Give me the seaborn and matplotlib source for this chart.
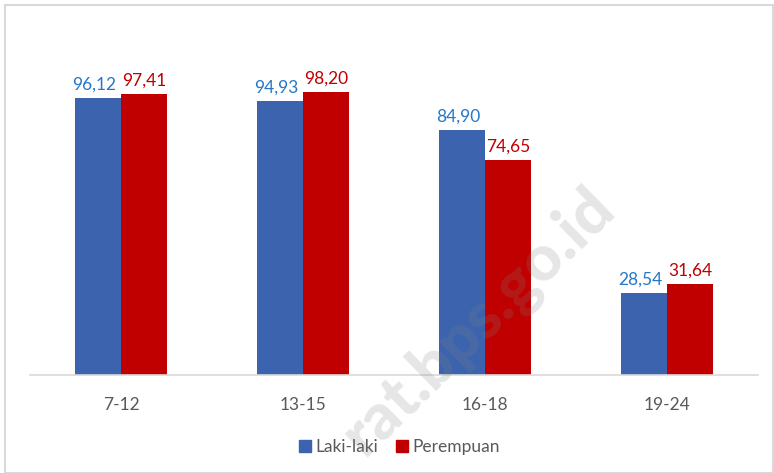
import matplotlib
matplotlib.use("Agg")
import matplotlib.pyplot as plt
import seaborn as sns
import pandas as pd
import numpy as np
from matplotlib.patches import Rectangle
from matplotlib.lines import Line2D

categories = ["7-12", "13-15", "16-18", "19-24"]
laki = [96.12, 94.93, 84.90, 28.54]
perempuan = [97.41, 98.20, 74.65, 31.64]
series = ["Laki-laki", "Perempuan"]

BLUE = "#3c64ae"
RED = "#c00000"
LBL_BLUE = "#2478c8"
LBL_RED = "#c00000"
GRAY = "#595959"

df = pd.DataFrame({
    "Umur": categories * 2,
    "Nilai": laki + perempuan,
    "Jenis": [series[0]] * 4 + [series[1]] * 4,
})

sns.set_theme(style="white")
plt.rcParams["font.family"] = ["Lato", "DejaVu Sans"]

W, H = 774, 473
fig = plt.figure(figsize=(W / 100, H / 100), dpi=100)
ax = fig.add_axes([30 / W, 1 - 375 / H, 728 / W, 346 / H])

sns.barplot(data=df, x="Umur", y="Nilai", hue="Jenis", order=categories,
            hue_order=series, palette=[BLUE, RED], width=0.505, gap=0,
            ax=ax, legend=False, saturation=1, errorbar=None)

for cont, col, dx in zip(ax.containers, [LBL_BLUE, LBL_RED], [-4, 0]):
    for bar in cont:
        bar.set_edgecolor("none")
    for bar, v in zip(cont, cont.datavalues):
        ax.annotate(f"{v:.2f}".replace(".", ","),
                    (bar.get_x() + bar.get_width() / 2, bar.get_height()),
                    xytext=(dx * 0.72, 4), textcoords="offset points",
                    ha="center", va="bottom", color=col, fontsize=12.5)

ax.set_ylim(0, 120)
ax.set_xlim(-0.5, 3.5)
ax.set_yticks([])
ax.set_xlabel("")
ax.set_ylabel("")
for s in ["top", "right", "left"]:
    ax.spines[s].set_visible(False)
ax.spines["bottom"].set_color("#d9d9d9")
ax.spines["bottom"].set_linewidth(1.2)
ax.tick_params(axis="x", length=0, pad=16, labelsize=12.5, labelcolor=GRAY)

handles = [Line2D([], [], marker="s", linestyle="none", markersize=8,
                  markerfacecolor=c, markeredgecolor=c) for c in [BLUE, RED]]
fig.legend(handles, series, loc="center", bbox_to_anchor=(398 / W, 1 - 447 / H),
           ncol=2, frameon=False, fontsize=12.5, labelcolor=GRAY,
           handletextpad=0.1, columnspacing=0.9, handlelength=1.0)

# watermark: scale font so the text spans the same length as in the reference
wm_text = "rat.bps.go.id"
start = (364, 458)
end = (617, 212)
target_len = np.hypot(end[0] - start[0], end[1] - start[1])
angle = np.degrees(np.arctan2(start[1] - end[1], end[0] - start[0]))
probe = fig.text(0, 0, wm_text, fontsize=40, fontweight=900)
fig.canvas.draw()
w40 = probe.get_window_extent().width
probe.remove()
fs = 40 * target_len / w40
fig.text(start[0] / W, 1 - start[1] / H, wm_text, rotation=angle,
         rotation_mode="anchor", ha="left", va="baseline", fontsize=fs,
         fontweight=900, color="#808080", alpha=0.2, zorder=10)

fig.patches.append(Rectangle((5 / W, 0), 1 - 5 / W - 0.001, 1 - 5 / H,
                             transform=fig.transFigure, fill=False,
                             edgecolor="#d9d9d9", linewidth=1.5))

fig.savefig("out.png", dpi=100)
